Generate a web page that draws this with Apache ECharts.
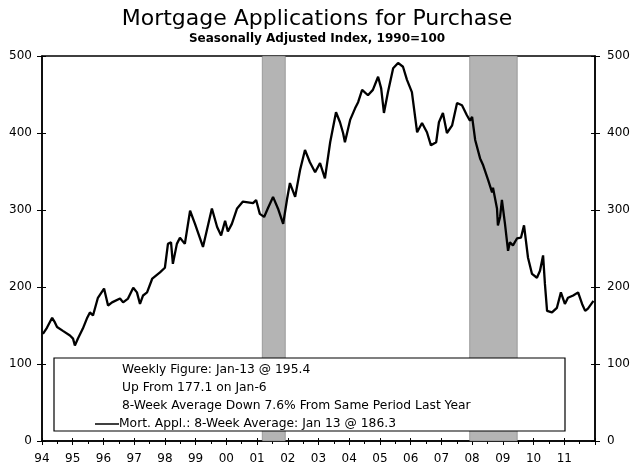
<!DOCTYPE html>
<html>
<head>
<meta charset="utf-8">
<script src="https://cdn.jsdelivr.net/npm/echarts@6/dist/echarts.min.js"></script>
<style>
  html, body { margin: 0; padding: 0; background: #fff; }
  #chart { width: 634px; height: 474px; }
</style>
</head>
<body>
<div id="chart"></div>
<script>
// 8-week average (decimal years)
const years = [
  1994.03, 1994.16, 1994.33, 1994.42, 1994.49, 1994.68, 1994.91, 1995.01, 1995.07, 1995.17,
  1995.33, 1995.46, 1995.56, 1995.66, 1995.82, 1996.02, 1996.15, 1996.28, 1996.54, 1996.64,
  1996.80, 1996.97, 1997.09, 1997.19, 1997.29, 1997.42, 1997.59, 1997.84, 1998.00, 1998.10,
  1998.20, 1998.26, 1998.39, 1998.49, 1998.65, 1998.82, 1998.98, 1999.24, 1999.53, 1999.70,
  1999.83, 1999.96, 2000.05, 2000.18, 2000.35, 2000.54, 2000.87, 2000.97, 2001.09, 2001.23,
  2001.36, 2001.52, 2001.68, 2001.85, 2001.98, 2002.07, 2002.24, 2002.40, 2002.56, 2002.72,
  2002.89, 2003.05, 2003.21, 2003.38, 2003.57, 2003.70, 2003.80, 2003.86, 2004.03, 2004.19,
  2004.29, 2004.42, 2004.61, 2004.77, 2004.94, 2005.04, 2005.13, 2005.26, 2005.43, 2005.59,
  2005.75, 2005.88, 2006.04, 2006.21, 2006.37, 2006.53, 2006.66, 2006.83, 2006.92, 2007.05,
  2007.18, 2007.35, 2007.51, 2007.67, 2007.83, 2007.93, 2008.00, 2008.10, 2008.26, 2008.36,
  2008.52, 2008.65, 2008.68, 2008.81, 2008.84, 2008.91, 2008.97, 2009.07, 2009.17, 2009.23,
  2009.33, 2009.46, 2009.59, 2009.69, 2009.82, 2009.95, 2010.11, 2010.21, 2010.31, 2010.37,
  2010.44, 2010.60, 2010.76, 2010.89, 2011.02, 2011.12, 2011.29, 2011.45, 2011.58, 2011.68,
  2011.77, 2011.95
]
const values = [
  139, 147, 160, 154, 148, 143, 137, 133, 124, 133,
  146, 159, 167, 163, 186, 198, 176, 180, 185, 180,
  185, 199, 193, 178, 189, 193, 211, 219, 225, 256,
  258, 230, 256, 264, 256, 299, 282, 252, 302, 278,
  267, 286, 272, 282, 302, 311, 309, 313, 295, 291,
  303, 317, 302, 282, 315, 335, 317, 352, 378, 362,
  349, 361, 341, 388, 427, 414, 400, 388, 417, 432,
  440, 456, 449, 456, 473, 458, 426, 453, 484, 491,
  486, 469, 453, 401, 413, 401, 384, 388, 414, 426,
  400, 410, 439, 436, 423, 416, 421, 391, 367, 358,
  339, 323, 329, 302, 280, 291, 313, 282, 247, 258,
  254, 263, 264, 280, 238, 217, 212, 221, 241, 204,
  169, 167, 173, 193, 178, 186, 189, 193, 178, 169,
  172, 182
]
// recessions
const recessions = [[2001.17, 2001.92], [2007.92, 2009.47]]
const yTicks = [0, 100, 200, 300, 400, 500]

const notes = [
  'Weekly Figure: Jan-13 @ 195.4',
  'Up From 177.1 on Jan-6',
  '8-Week Average Down 7.6% From Same Period Last Year'
]
const seriesName = 'Mort. Appl.: 8-Week Average: Jan 13 @ 186.3'

const font = 'DejaVu Sans, Verdana, sans-serif'
const myChart = echarts.init(document.getElementById('chart'))

const yAxisBase = {
  type: 'value',
  min: yTicks[0],
  max: yTicks[yTicks.length - 1],
  interval: 100,
  splitLine: { show: false },
}

const option = {
  animation: false,
  title: {
    text: 'Mortgage Applications for Purchase',
    subtext: 'Seasonally Adjusted Index, 1990=100',
    left: 'center',
    top: 3,
    itemGap: 3,
    textStyle: { fontFamily: font, fontSize: 22, fontWeight: 'normal', color: '#000' },
    subtextStyle: { fontFamily: font, fontSize: 12, fontWeight: 'bold', color: '#000' },
  },
  grid: {
    left: 42,
    right: 39,
    top: 56,
    bottom: 33,
    show: true,
    borderColor: '#000',
    borderWidth: 1.5,
  },
  xAxis: [
    {
      type: 'value',
      min: 1994,
      max: 2012,
      interval: 1,
      axisLine: { lineStyle: { color: '#000', width: 1.5 } },
      axisTick: { length: 4, lineStyle: { color: '#000' } },
      minorTick: { show: true, splitNumber: 2, length: 3, lineStyle: { color: '#000' } },
      axisLabel: {
        fontFamily: font,
        fontSize: 12,
        color: '#000',
        margin: 12,
        formatter: (v) => (v >= 2012 ? '' : String(v).slice(2)),
      },
      splitLine: { show: false },
    },
    {
      type: 'value',
      min: 1994,
      max: 2012,
      interval: 1,
      position: 'bottom',
      axisLine: { show: false },
      axisTick: { inside: true, length: 3, lineStyle: { color: '#000' } },
      axisLabel: { show: false },
      splitLine: { show: false },
    },
  ],
  yAxis: [
    {
      ...yAxisBase,
      position: 'left',
      axisLine: { show: true, lineStyle: { color: '#000', width: 1.5 } },
      axisTick: { show: true, length: 5, lineStyle: { color: '#000' } },
      axisLabel: { fontFamily: font, fontSize: 12, color: '#000', margin: 10 },
    },
    {
      ...yAxisBase,
      position: 'right',
      axisLine: { show: true, lineStyle: { color: '#000', width: 1.5 } },
      axisTick: { show: true, length: 5, lineStyle: { color: '#000' } },
      axisLabel: { fontFamily: font, fontSize: 12, color: '#000', margin: 12 },
    },
    {
      ...yAxisBase,
      position: 'left',
      axisLine: { show: false },
      axisTick: { show: true, inside: true, length: 4, lineStyle: { color: '#000' } },
      axisLabel: { show: false },
    },
    {
      ...yAxisBase,
      position: 'right',
      axisLine: { show: false },
      axisTick: { show: true, inside: true, length: 4, lineStyle: { color: '#000' } },
      axisLabel: { show: false },
    },
  ],
  graphic: [
    {
      type: 'rect',
      shape: { x: 54, y: 358, width: 511, height: 73 },
      style: { fill: '#fff', stroke: '#000', lineWidth: 1.2 },
      z: 10,
    },
    ...notes.map((t, i) => ({
      type: 'text',
      left: 122,
      top: 364 + i * 18,
      z: 11,
      style: { text: t, font: '12.3px ' + font, fill: '#000' },
    })),
    // legend sample
    {
      type: 'line',
      shape: { x1: 95, y1: 424, x2: 119, y2: 424 },
      style: { stroke: '#000', lineWidth: 1.5 },
      z: 11,
    },
    {
      type: 'text',
      left: 119,
      top: 418,
      z: 11,
      style: { text: seriesName, font: '12.3px ' + font, fill: '#000' },
    },
  ],
  series: [
    {
      name: seriesName,
      type: 'line',
      data: years.map((y, i) => [y, values[i]]),
      symbol: 'none',
      lineStyle: { color: '#000', width: 2.3 },
      itemStyle: { color: '#000' },
      z: 5,
      markArea: {
        silent: true,
        itemStyle: { color: '#b4b4b4', borderColor: '#666', borderWidth: 0.5 },
        data: recessions.map((r) => [{ xAxis: r[0] }, { xAxis: r[1] }]),
      },
    },
  ],
}

option && myChart.setOption(option)
</script>
</body>
</html>
